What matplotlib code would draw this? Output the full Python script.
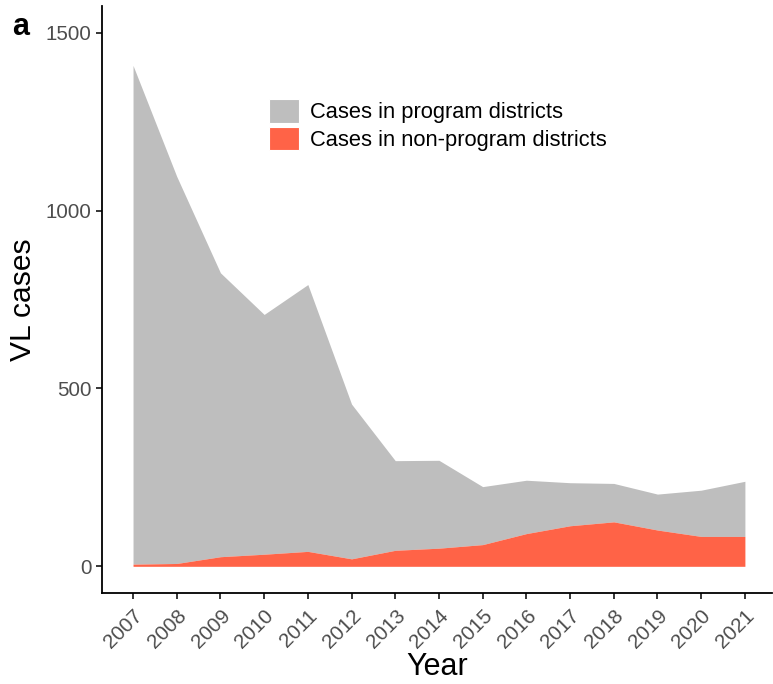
import matplotlib
matplotlib.use("Agg")
import matplotlib.pyplot as plt
from matplotlib.patches import Patch
import numpy as np

plt.rcParams["font.family"] = ["Liberation Sans", "DejaVu Sans"]

years = np.arange(2007, 2022)
# VL cases by district group
non_program = [6, 8, 27, 34, 42, 21, 45, 51, 61, 92, 114, 125, 102, 84, 84]
total = [1408, 1096, 825, 708, 792, 456, 297, 298, 224, 242, 235, 233, 203, 214, 239]

GREY = "#BEBEBE"
TOMATO = "#FF6347"
TICK_GREY = "#4D4D4D"

fig = plt.figure(figsize=(7.73, 6.84), dpi=100)
ax = fig.add_axes([102 / 773, 91 / 684, 670 / 773, 587 / 684])

non_program = np.array(non_program)
total = np.array(total)
ax.fill_between(years, non_program, total, color=GREY, linewidth=0)
ax.fill_between(years, 0, non_program, color=TOMATO, linewidth=0)

ax.set_xlim(2006.29, 2021.62)
ax.set_ylim(-75, 1575)
ax.set_yticks([0, 500, 1000, 1500])
ax.set_xticks(years)
ax.set_xticklabels([str(y) for y in years], rotation=45, ha="right",
                   va="top", rotation_mode="anchor")

for side in ("top", "right"):
    ax.spines[side].set_visible(False)
for side in ("left", "bottom"):
    ax.spines[side].set_linewidth(1.3)
ax.tick_params(axis="both", length=4.5, width=1.1, color="black",
               labelsize=14.8, labelcolor=TICK_GREY, pad=3)
ax.tick_params(axis="x", pad=5)

ax.set_xlabel("Year", fontsize=22, labelpad=0)
ax.set_ylabel("VL cases", fontsize=21.6, labelpad=6)

handles = [Patch(facecolor=GREY, edgecolor="white", linewidth=0.8,
                 label="Cases in program districts"),
           Patch(facecolor=TOMATO, edgecolor="white", linewidth=0.8,
                 label="Cases in non-program districts")]
ax.legend(handles=handles, loc="upper left", bbox_to_anchor=(0.249, 0.8416),
          frameon=False, fontsize=15.75, handlelength=1.37, handleheight=1.3,
          handletextpad=0.5, labelspacing=0.15, borderaxespad=0, borderpad=0)

# panel tag
fig.text(12 / 773, 1 - 35 / 684, "a", fontsize=22, fontweight="bold")

fig.savefig("out.png", dpi=100)
